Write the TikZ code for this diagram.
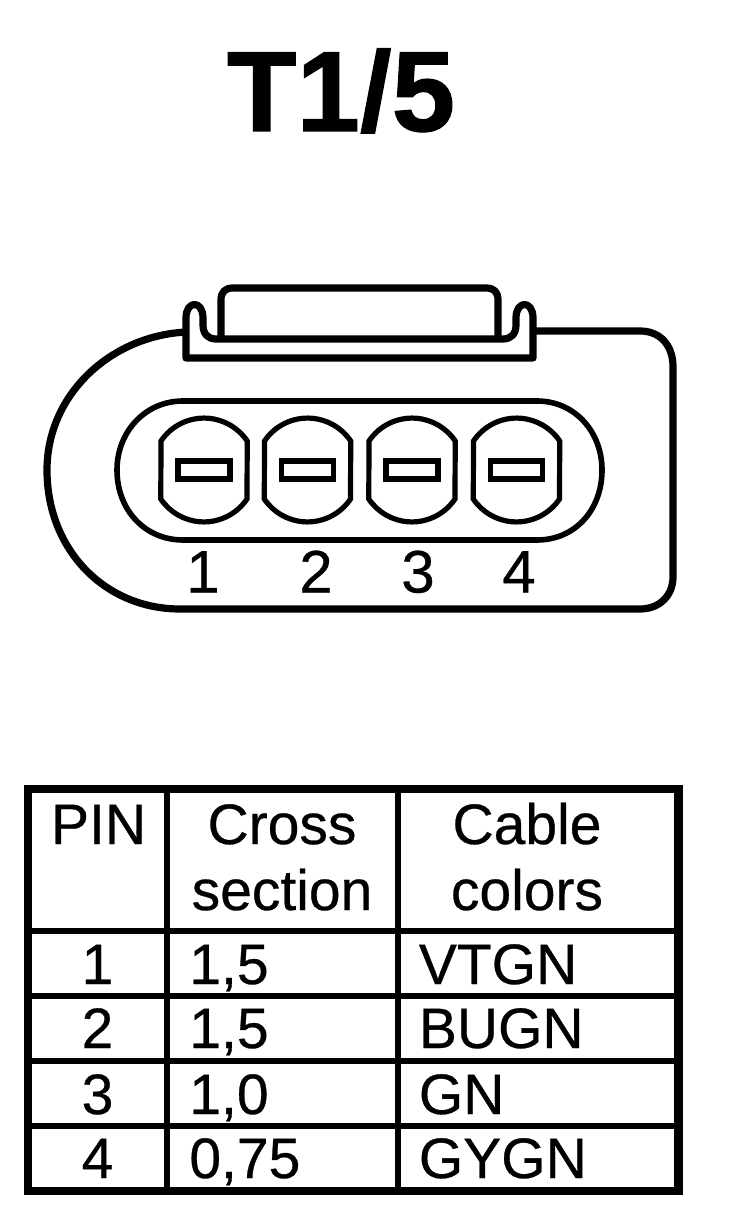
\documentclass[tikz,border=0pt]{standalone}
\usepackage{fontspec}
\setmainfont{Liberation Sans}
\newfontfamily\heavysans[RawFeature={embolden=0.5}]{Liberation Sans}
\newfontfamily\heavytitle[RawFeature={embolden=1}]{Liberation Sans Bold}
\tikzset{
  px/.style={x=0.5pt,y=-0.5pt},
  outerline/.style={line width=3.6pt,line join=round},
  ovalline/.style={line width=2.8pt},
  pinline/.style={line width=2.6pt},
  slotline/.style={line width=2.8pt,line join=miter},
  tframe/.style={line width=4.2pt,line join=miter},
  tgrid/.style={line width=3pt},
  pinnum/.style={inner sep=0pt,anchor=base,font=\fontsize{30}{30}\heavysans},
  celltext/.style={inner sep=0pt,anchor=base,font=\fontsize{28.5}{28.5}\heavysans},
  celltextl/.style={celltext,anchor=base west},
  titletext/.style={inner sep=0pt,anchor=base,font=\fontsize{57}{57}\heavytitle}
}
\newcommand{\pinshape}[2]{%
  \draw[pinline] (#1-43,#2-29) arc[start angle=-146,end angle=-34,x radius=52,y radius=52]
    -- (#1+43,#2+29) arc[start angle=34,end angle=146,x radius=52,y radius=52] -- cycle;
  \draw[slotline] (#1-26,#2-9) rectangle (#1+26,#2+9);
}
\begin{document}
\begin{tikzpicture}[px]
\useasboundingbox (0,0) rectangle (736,1224);
\fill[white] (0,0) rectangle (736,1224);
\node[titletext] (title) at (341,131) {T1/5};
% housing
\draw[outerline] (186,332) .. controls (110,336) and (47,395) .. (47,470)
  .. controls (47,550) and (105,609) .. (180,609)
  -- (640,609) .. controls (660,609) and (673,595) .. (673,577)
  -- (673,367) .. controls (673,345) and (660,331) .. (640,331) -- (533,331);
% latch
\draw[outerline] (186,358) -- (186,318) .. controls (186,300) and (203,300) .. (203,318)
  -- (203,325) .. controls (203,334) and (208,339) .. (216,339)
  -- (503,339) .. controls (511,339) and (516,334) .. (516,325)
  -- (516,318) .. controls (516,300) and (533,300) .. (533,318)
  -- (533,358) -- cycle;
% cover
\draw[outerline] (221,339) -- (221,300) .. controls (221,292) and (225,288) .. (233,288)
  -- (486,288) .. controls (494,288) and (498,292) .. (498,300) -- (498,339);
% inner oval
\draw[ovalline] (183,401) -- (537,401) .. controls (575,401) and (602,432) .. (602,470)
  .. controls (602,510) and (575,540) .. (537,540) -- (183,540)
  .. controls (145,540) and (117,510) .. (117,470)
  .. controls (117,432) and (145,401) .. (183,401) -- cycle;
\pinshape{204}{470}
\pinshape{307.5}{470}
\pinshape{412}{470}
\pinshape{516.5}{470}
\node[pinnum] (n1) at (203,592.5) {1};
\node[pinnum] (n2) at (316,592.5) {2};
\node[pinnum] (n3) at (418,592.5) {3};
\node[pinnum] (n4) at (519,592.5) {4};
% table
\draw[tframe] (28,789) rectangle (678.5,1191);
\draw[tgrid] (28,931) -- (678.5,931) (28,996) -- (678.5,996) (28,1061) -- (678.5,1061) (28,1126) -- (678.5,1126);
\draw[tgrid] (167,789) -- (167,1191);
\draw[tgrid] (398,789) -- (398,1191);
\node[celltext] (h1) at (98.5,844) {PIN};
\node[celltext] (h2a) at (282,844) {Cross};
\node[celltext] (h2b) at (282,910) {section};
\node[celltext] (h3a) at (527,844) {Cable};
\node[celltext] (h3b) at (527,910) {colors};
\node[celltext] (p1) at (97.5,984) {1};
\node[celltext] (p2) at (97.5,1048) {2};
\node[celltext] (p3) at (97.5,1114) {3};
\node[celltext] (p4) at (97.5,1178) {4};
\node[celltextl] (c1) at (189,984) {1,5};
\node[celltextl] (c2) at (189,1048) {1,5};
\node[celltextl] (c3) at (189,1114) {1,0};
\node[celltextl] (c4) at (189,1178) {0,75};
\node[celltextl] (d1) at (418.5,984) {VTGN};
\node[celltextl] (d2) at (418.5,1048) {BUGN};
\node[celltextl] (d3) at (418.5,1114) {GN};
\node[celltextl] (d4) at (418.5,1178) {GYGN};
\end{tikzpicture}
\end{document}
